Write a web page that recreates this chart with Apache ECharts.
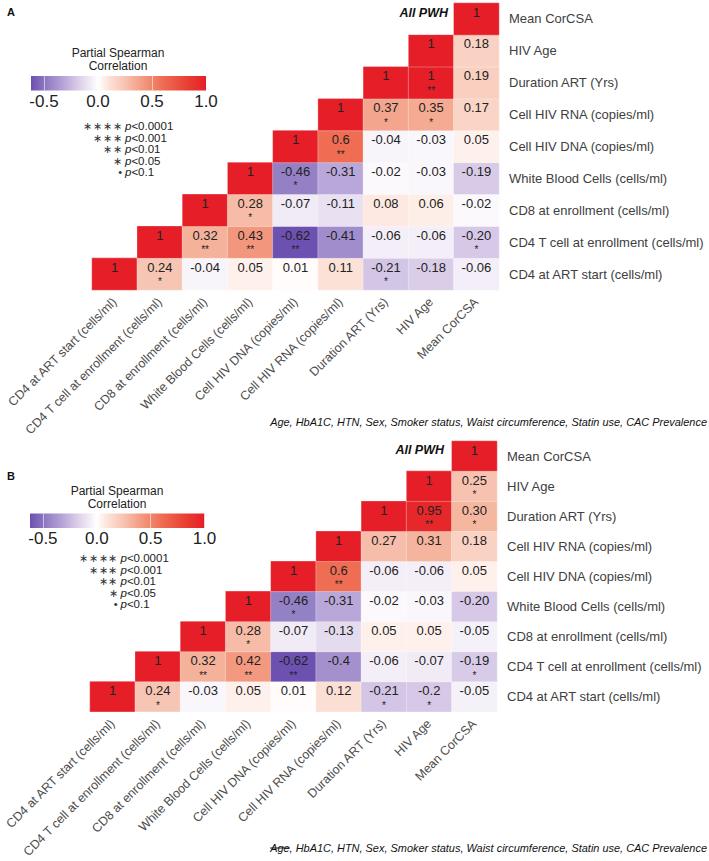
<!DOCTYPE html>
<html><head><meta charset="utf-8">
<script src="https://cdn.jsdelivr.net/npm/echarts@6/dist/echarts.min.js"></script>
<style>html,body{margin:0;padding:0;background:#fff}#c{width:709px;height:861px}</style>
</head><body><div id="c"></div>
<script>
// ---------- data ----------
const variables = [
  'CD4 at ART start (cells/ml)', 'CD4 T cell at enrollment (cells/ml)', 'CD8 at enrollment (cells/ml)',
  'White Blood Cells (cells/ml)', 'Cell HIV DNA (copies/ml)', 'Cell HIV RNA (copies/ml)',
  'Duration ART (Yrs)', 'HIV Age', 'Mean CorCSA'
];
// each row j (bottom to top) lists columns j..8, as printed
const rowsA = [
  ['1', '0.24', '-0.04', '0.05', '0.01', '0.11', '-0.21', '-0.18', '-0.06'],
  ['1', '0.32', '0.43', '-0.62', '-0.41', '-0.06', '-0.06', '-0.20'],
  ['1', '0.28', '-0.07', '-0.11', '0.08', '0.06', '-0.02'],
  ['1', '-0.46', '-0.31', '-0.02', '-0.03', '-0.19'],
  ['1', '0.6', '-0.04', '-0.03', '0.05'],
  ['1', '0.37', '0.35', '0.17'],
  ['1', '1', '0.19'],
  ['1', '0.18'],
  ['1']
];
const starsA = [
  ['', '*', '', '', '', '', '*', '', ''],
  ['', '**', '**', '**', '', '', '', '*'],
  ['', '*', '', '', '', '', ''],
  ['', '*', '', '', '', ''],
  ['', '**', '', '', ''],
  ['', '*', '*', ''],
  ['', '**', ''],
  ['', ''],
  ['']
];
const rowsB = [
  ['1', '0.24', '-0.03', '0.05', '0.01', '0.12', '-0.21', '-0.2', '-0.05'],
  ['1', '0.32', '0.42', '-0.62', '-0.4', '-0.06', '-0.07', '-0.19'],
  ['1', '0.28', '-0.07', '-0.13', '0.05', '0.05', '-0.05'],
  ['1', '-0.46', '-0.31', '-0.02', '-0.03', '-0.20'],
  ['1', '0.6', '-0.06', '-0.06', '0.05'],
  ['1', '0.27', '0.31', '0.18'],
  ['1', '0.95', '0.30'],
  ['1', '0.25'],
  ['1']
];
const starsB = [
  ['', '*', '', '', '', '', '*', '*', ''],
  ['', '**', '**', '**', '', '', '', '*'],
  ['', '*', '', '', '', '', ''],
  ['', '*', '', '', '', ''],
  ['', '**', '', '', ''],
  ['', '', '', ''],
  ['', '**', '*'],
  ['', '*'],
  ['']
];
const colorbarTicks = [-0.5, 0, 0.5, 1.0];
const colorbarTickLabels = ['-0.5', '0.0', '0.5', '1.0'];
const colorMin = -0.62, colorMax = 1;
const sigStars = ['\u2217\u200a\u2217\u200a\u2217\u200a\u2217', '\u2217\u200a\u2217\u200a\u2217', '\u2217\u200a\u2217', '\u2217', '\u2022'];
const sigLabels = ['<0.0001', '<0.001', '<0.01', '<0.05', '<0.1'];
const covariates = 'Age, HbA1C, HTN, Sex, Smoker status, Waist circumference, Statin use, CAC Prevalence';
const legendTitle = ['Partial Spearman', 'Correlation'];
const groupLabel = 'All PWH';

// ---------- colour scale (style) ----------
const colorKeys = [
  [-0.62, '#6c51b1'], [-0.46, '#9480c4'], [-0.31, '#b9a7d9'], [-0.2, '#d6c8e6'], [-0.1, '#ebe3f2'],
  [0, '#ffffff'], [0.1, '#fce3d9'], [0.25, '#f7c3b0'], [0.4, '#f39e84'], [0.6, '#ee6d53'],
  [0.8, '#e94536'], [1, '#e51e27']
];
function h2r(h) { return [1, 3, 5].map(k => parseInt(h.substr(k, 2), 16)); }
function colorAt(v) {
  if (v <= colorKeys[0][0]) return colorKeys[0][1];
  for (let k = 1; k < colorKeys.length; k++) {
    if (v <= colorKeys[k][0]) {
      const [a, ca] = colorKeys[k - 1], [b, cb] = colorKeys[k];
      const t = (v - a) / (b - a), A = h2r(ca), B = h2r(cb);
      return 'rgb(' + A.map((x, i) => Math.round(x + (B[i] - x) * t)).join(',') + ')';
    }
  }
  return colorKeys[colorKeys.length - 1][1];
}
const NSTOP = 163;
const vmColors = [], gradStops = [];
for (let k = 0; k < NSTOP; k++) {
  const v = colorMin + (colorMax - colorMin) * k / (NSTOP - 1);
  vmColors.push(colorAt(v));
  gradStops.push({ offset: k / (NSTOP - 1), color: colorAt(v) });
}

function buildData(rows, stars) {
  const out = [];
  rows.forEach((row, j) => row.forEach((txt, k) => {
    const i = j + k;
    out.push({ value: [i, j, parseFloat(txt)], txt: txt, st: stars[j][k] });
  }));
  return out;
}

const FF = '"Liberation Sans", Arial, Helvetica, sans-serif';
const cvs = document.createElement('canvas').getContext('2d');
function tw(text, font) { cvs.font = font; return cvs.measureText(text).width; }

// ---------- layout ----------
const panels = [
  { grid: { left: 92, top: 3, width: 407, height: 287 }, rows: rowsA, stars: starsA,
    cbar: { left: 31, top: 76, width: 175, height: 14.5 }, titleY: 52.5, titleX: 118,
    sigY: 126, sigX: 125, letter: 'A', letterY: 12, groupX: 448, groupY: 13, footY: 422, strike: false },
  { grid: { left: 90, top: 441, width: 407, height: 286 }, rows: rowsB, stars: starsB,
    cbar: { left: 30, top: 513.5, width: 174.5, height: 14.5 }, titleY: 490.5, titleX: 117,
    sigY: 558, sigX: 120.5, letter: 'B', letterY: 475.5, groupX: 444, groupY: 450, footY: 848, strike: true }
];

const grids = [], xAxes = [], yAxes = [], series = [], graphics = [];
panels.forEach((p, n) => {
  grids.push(Object.assign({}, p.grid));
  xAxes.push({
    gridIndex: n, type: 'category', data: variables,
    axisLine: { show: false }, axisTick: { show: false }, splitLine: { show: false },
    axisLabel: { interval: 0, rotate: 45, margin: 10, fontSize: 12.5, color: '#4d4d4d', fontFamily: FF }
  });
  yAxes.push({
    gridIndex: n, type: 'category', data: variables, position: 'right',
    axisLine: { show: false }, axisTick: { show: false }, splitLine: { show: false },
    axisLabel: { interval: 0, margin: 10, fontSize: 13, color: '#404040', fontFamily: FF }
  });
  series.push({
    type: 'heatmap', xAxisIndex: n, yAxisIndex: n, data: buildData(p.rows, p.stars),
    itemStyle: { borderColor: 'rgba(255,255,255,0.6)', borderWidth: 0.5 },
    emphasis: { disabled: true },
    label: {
      show: true, position: 'insideTop', distance: 2,
      formatter: q => q.data.st ? '{v|' + q.data.txt + '}\n{s|' + q.data.st + '}' : '{v|' + q.data.txt + '}',
      rich: {
        v: { fontSize: 13, color: '#222', lineHeight: 15, fontFamily: FF },
        s: { fontSize: 10, color: '#222', lineHeight: 14, fontFamily: FF }
      }
    }
  });
});
// colour bars and legend texts
panels.forEach((p, n) => {
  const gi = grids.length;
  grids.push(Object.assign({}, p.cbar));
  xAxes.push({
    gridIndex: gi, type: 'value', min: colorMin, max: colorMax, z: 5,
    axisLine: { show: false }, splitLine: { show: false },
    axisTick: { show: true, inside: true, length: p.cbar.height, customValues: colorbarTicks,
      lineStyle: { color: 'rgba(255,255,255,0.55)', width: 1 } },
    axisLabel: { customValues: colorbarTicks, margin: 2, fontSize: 17, color: '#222', fontFamily: FF,
      formatter: v => colorbarTickLabels[colorbarTicks.findIndex(t => Math.abs(t - v) < 1e-9)] }
  });
  yAxes.push({ gridIndex: gi, type: 'value', min: 0, max: 1, show: false });
  series.push({
    type: 'custom', xAxisIndex: gi, yAxisIndex: gi, silent: true, z: 1,
    data: [[colorMin, 0, colorMax, 1]],
    renderItem: (params, api) => {
      const a = api.coord([colorMin, 0]), b = api.coord([colorMax, 1]);
      return { type: 'rect', shape: { x: a[0], y: b[1], width: b[0] - a[0], height: a[1] - b[1] },
        style: { fill: new echarts.graphic.LinearGradient(0, 0, 1, 0, gradStops) } };
    }
  });
  legendTitle.forEach((t, k) => {
    graphics.push({ type: 'text', x: p.titleX, y: p.titleY + k * 13, style: { text: t, font: '12px ' + FF,
      fill: '#222', textAlign: 'center', textVerticalAlign: 'middle', lineHeight: 12 } });
  });
  sigStars.forEach((s, k) => {
    const y = p.sigY + k * 11.5;
    graphics.push({ type: 'text', x: p.sigX - 3, y: y, style: { text: s, font: '11px ' + FF, fill: '#333',
      textAlign: 'right', textVerticalAlign: 'middle', lineHeight: 11 } });
    graphics.push({ type: 'text', x: p.sigX, y: y, style: { text: '{i|p}{n|' + sigLabels[k] + '}',
      textAlign: 'left', textVerticalAlign: 'middle',
      rich: { i: { fontSize: 11.5, fontStyle: 'italic', fontFamily: FF, fill: '#222', lineHeight: 11 },
              n: { fontSize: 11.5, fontFamily: FF, fill: '#222', lineHeight: 11 } } } });
  });
  graphics.push({ type: 'text', x: 7, y: p.letterY, style: { text: p.letter, font: 'bold 11px ' + FF,
    fill: '#111', textAlign: 'left', textVerticalAlign: 'middle' } });
  graphics.push({ type: 'text', x: p.groupX, y: p.groupY, style: { text: groupLabel,
    font: 'italic bold 12.5px ' + FF, fill: '#111', textAlign: 'right', textVerticalAlign: 'middle' } });
  const base = tw(covariates, 'italic 11px ' + FF);
  const fs = 11 * 437 / base;
  const footFont = 'italic ' + fs.toFixed(2) + 'px ' + FF;
  graphics.push({ type: 'text', x: 707, y: p.footY, style: { text: covariates, font: footFont,
    fill: '#111', textAlign: 'right', textVerticalAlign: 'middle' } });
  if (p.strike) {
    const x0 = 707 - tw(covariates, footFont);
    const wAge = tw('Age', footFont);
    graphics.push({ type: 'line', shape: { x1: x0, y1: p.footY, x2: x0 + wAge, y2: p.footY },
      style: { stroke: '#111', lineWidth: 1 } });
  }
});

const chart = echarts.init(document.getElementById('c'), null, { renderer: 'svg' });
chart.setOption({
  backgroundColor: '#fff',
  animation: false,
  grid: grids, xAxis: xAxes, yAxis: yAxes,
  visualMap: { type: 'continuous', show: false, min: colorMin, max: colorMax, dimension: 2,
    seriesIndex: [0, 1], inRange: { color: vmColors } },
  series: series,
  graphic: graphics
});
</script></body></html>
